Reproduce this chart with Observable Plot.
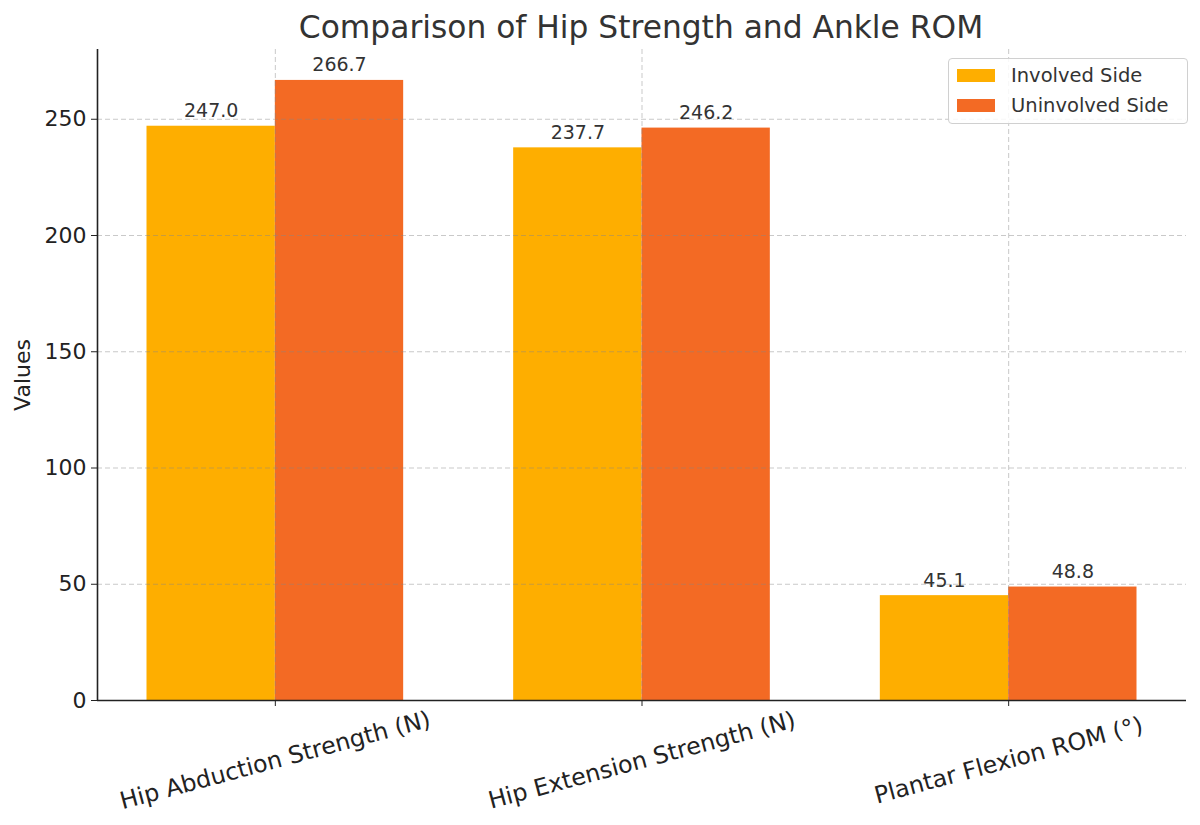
<!DOCTYPE html>
<html>
<head>
<meta charset="utf-8">
<script src="https://cdn.jsdelivr.net/npm/d3@7"></script>
<script src="https://cdn.jsdelivr.net/npm/@observablehq/plot@0.6"></script>
<style>
  body { margin: 0; background: #fff; font-family: "DejaVu Sans", sans-serif; }
  #wrap { position: relative; width: 1200px; height: 825px; overflow: hidden; }
  #title { position: relative; height: 46px; }
  #title span { position: absolute; left: 641px; top: 7px; transform: translateX(-50%); white-space: nowrap; font-size: 31.3px; line-height: 40px; color: #333; }
  #legend { position: absolute; left: 948px; top: 58px; width: 240px; height: 66px; box-sizing: border-box;
    border: 1px solid #d0d0d0; border-radius: 4px; background: rgba(255,255,255,0.85); font-size: 19.5px; color: #333; }
  .item { position: absolute; left: 8px; display: flex; align-items: center; }
  .sw { width: 38px; height: 13px; margin-right: 16px; }
</style>
</head>
<body>
<div id="wrap">
  <div id="title"><span>Comparison of Hip Strength and Ankle ROM</span></div>
  <div id="chart"></div>
  <div id="legend"></div>
</div>
<script>
const categories = ["Hip Abduction Strength (N)", "Hip Extension Strength (N)", "Plantar Flexion ROM (°)"];
const involved = [247.0, 237.7, 45.1];
const uninvolved = [266.7, 246.2, 48.8];
const seriesNames = ["Involved Side", "Uninvolved Side"];
const seriesColors = ["#FEAE00", "#F36A24"];
const yTicks = [0, 50, 100, 150, 200, 250];
const barWidth = 0.35;

const rows = [];
categories.forEach((c, i) => {
  rows.push({i, series: seriesNames[0], value: involved[i], x1: i - barWidth, x2: i});
  rows.push({i, series: seriesNames[1], value: uninvolved[i], x1: i, x2: i + barWidth});
});

const fs = "DejaVu Sans, sans-serif";
const chart = Plot.plot({
  width: 1200,
  height: 779,
  marginLeft: 97,
  marginRight: 14,
  marginTop: 3,
  marginBottom: 125,
  style: {fontFamily: fs, background: "transparent"},
  x: {type: "linear", domain: [-0.485, 2.485]},
  y: {domain: [0, 280]},
  color: {domain: seriesNames, range: seriesColors},
  marks: [
    Plot.rectY(rows, {x1: "x1", x2: "x2", y: "value", fill: "series"}),
    Plot.gridY({ticks: yTicks.filter(d => d > 0), stroke: "#888", strokeOpacity: 0.45, strokeDasharray: "5,3", strokeWidth: 1}),
    Plot.gridX({ticks: [0, 1, 2], stroke: "#888", strokeOpacity: 0.45, strokeDasharray: "5,3", strokeWidth: 1}),
    Plot.text(rows, {x: d => (d.x1 + d.x2) / 2, y: "value", text: d => d.value.toFixed(1), dy: -9, lineAnchor: "bottom", fontSize: 19, fill: "#333"}),
    Plot.axisY({ticks: yTicks, tickSize: 6, tickPadding: 5, fontSize: 22, label: null, color: "#222"}),
    Plot.axisX({ticks: [0, 1, 2], tickSize: 6, tickFormat: () => "", label: null, color: "#222"}),
    Plot.text(categories, {x: (d, i) => i, frameAnchor: "bottom", dy: 60, text: d => d, rotate: -15, textAnchor: "middle", lineAnchor: "middle", fontSize: 23.7, fill: "#222"}),
    Plot.text(["Values"], {frameAnchor: "left", dx: -75, rotate: -90, text: d => d, textAnchor: "middle", lineAnchor: "middle", fontSize: 22, fill: "#222"}),
    Plot.ruleX([-0.485], {stroke: "#222", strokeWidth: 1.6}),
    Plot.ruleY([0], {stroke: "#222", strokeWidth: 1.6})
  ]
});
document.getElementById("chart").appendChild(chart);

const legend = document.getElementById("legend");
seriesNames.forEach((name, k) => {
  const it = document.createElement("div");
  it.className = "item";
  it.style.top = (5 + k * 29.5) + "px";
  it.innerHTML = `<div class="sw" style="background:${seriesColors[k]}"></div><span>${name}</span>`;
  legend.appendChild(it);
});
</script>
</body>
</html>
